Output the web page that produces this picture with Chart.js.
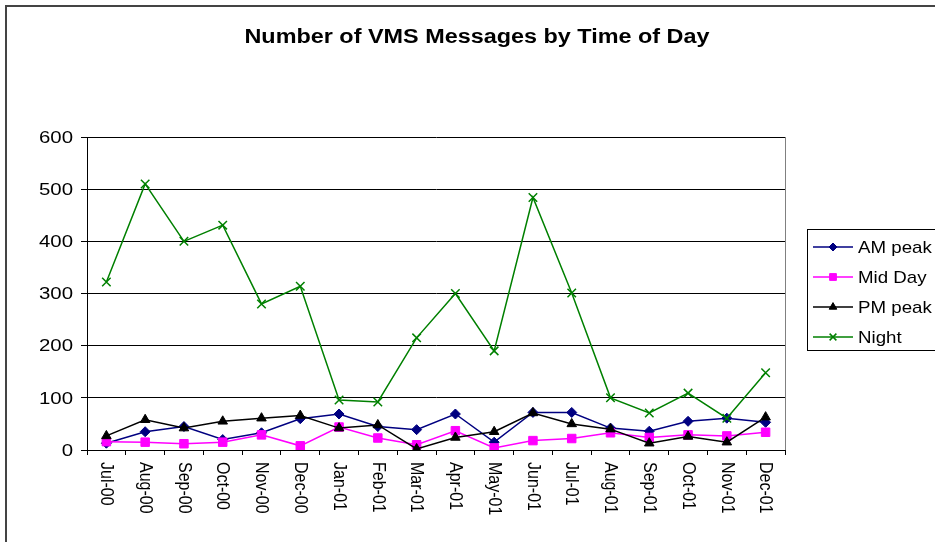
<!DOCTYPE html>
<html>
<head>
<meta charset="utf-8">
<script src="https://cdn.jsdelivr.net/npm/chart.js@4/dist/chart.umd.min.js"></script>
<style>
  html, body { margin: 0; padding: 0; background: #fff; }
  #wrap { width: 935px; height: 542px; position: relative; }
</style>
</head>
<body>
<div id="wrap"><canvas id="myChart" width="935" height="542"></canvas></div>
<script>
// Chart values
const months = ['Jul-00', 'Aug-00', 'Sep-00', 'Oct-00', 'Nov-00', 'Dec-00', 'Jan-01', 'Feb-01', 'Mar-01',
  'Apr-01', 'May-01', 'Jun-01', 'Jul-01', 'Aug-01', 'Sep-01', 'Oct-01', 'Nov-01', 'Dec-01'];
const amPeak = [13, 35, 45, 20, 33, 60, 69, 45, 39, 69, 15, 72, 72, 42, 36, 55, 61, 53];
const midDay = [16, 15, 12, 15, 29, 8, 44, 23, 10, 37, 4, 18, 22, 33, 24, 29, 27, 34];
const pmPeak = [27, 58, 42, 55, 61, 66, 42, 48, 2, 24, 35, 71, 50, 40, 13, 26, 15, 63];
const night = [322, 510, 400, 431, 280, 314, 96, 92, 215, 300, 190, 484, 301, 100, 71, 109, 61, 148];
const seriesNames = ['AM peak', 'Mid Day', 'PM peak', 'Night'];
const yTicks = [0, 100, 200, 300, 400, 500, 600];
const chartTitle = 'Number of VMS Messages by Time of Day';

const FONT = '"Liberation Sans", Arial, sans-serif';
const STRETCH = 1.2; // the original picture is stretched sideways

// Draws the texts, legend and frame the way the original Excel chart does
const decorations = {
  id: 'decorations',
  afterDraw(chart) {
    const ctx = chart.ctx;
    const area = chart.chartArea;
    const xs = chart.scales.x;
    const ys = chart.scales.y;

    ctx.save();
    // outer frame
    ctx.strokeStyle = '#444';
    ctx.lineWidth = 2;
    ctx.strokeRect(6, 6, 1000, 1000);

    // plot area right edge
    ctx.strokeStyle = '#808080';
    ctx.lineWidth = 1;
    ctx.beginPath();
    ctx.moveTo(area.right + 0.5, area.top);
    ctx.lineTo(area.right + 0.5, area.bottom);
    ctx.stroke();

    ctx.fillStyle = '#000';

    // title
    ctx.save();
    ctx.translate(477, 38);
    ctx.scale(STRETCH, 1);
    ctx.font = 'bold 19.5px ' + FONT;
    ctx.textAlign = 'center';
    ctx.textBaseline = 'middle';
    ctx.fillText(chartTitle, 0, 0);
    ctx.restore();

    // y labels
    yTicks.forEach(v => {
      ctx.save();
      ctx.translate(area.left - 14, ys.getPixelForValue(v) + 1);
      ctx.scale(STRETCH, 1);
      ctx.font = '17px ' + FONT;
      ctx.textAlign = 'right';
      ctx.textBaseline = 'middle';
      ctx.fillText(String(v), 0, 0);
      ctx.restore();
    });

    // x labels, reading downwards
    months.forEach((m, i) => {
      ctx.save();
      ctx.translate(xs.getPixelForValue(i), area.bottom + 12);
      ctx.scale(STRETCH, 1);
      ctx.rotate(Math.PI / 2);
      ctx.font = '16px ' + FONT;
      ctx.textAlign = 'left';
      ctx.textBaseline = 'middle';
      ctx.fillText(m, 0, 0);
      ctx.restore();
    });

    // legend
    ctx.strokeStyle = '#000';
    ctx.lineWidth = 1;
    ctx.strokeRect(807.5, 229.5, 140, 121);
    chart.data.datasets.forEach((ds, i) => {
      const y = 247 + i * 30;
      ctx.strokeStyle = ds.borderColor;
      ctx.lineWidth = 1.5;
      ctx.beginPath();
      ctx.moveTo(813, y);
      ctx.lineTo(853, y);
      ctx.stroke();
      if (Chart.helpers && Chart.helpers.drawPoint) {
        ctx.fillStyle = ds.pointBackgroundColor;
        ctx.strokeStyle = ds.pointBorderColor;
        ctx.lineWidth = ds.pointBorderWidth;
        Chart.helpers.drawPoint(ctx, { pointStyle: ds.pointStyle, radius: ds.pointRadius * 0.8, borderWidth: ds.pointBorderWidth }, 833, y);
      }
      ctx.save();
      ctx.translate(858, y + 1);
      ctx.scale(1.1, 1);
      ctx.fillStyle = '#000';
      ctx.font = '17px ' + FONT;
      ctx.textAlign = 'left';
      ctx.textBaseline = 'middle';
      ctx.fillText(ds.label, 0, 0);
      ctx.restore();
    });
    ctx.restore();
  }
};

function series(label, data, color, style, radius, order) {
  return {
    label: label,
    data: data,
    borderColor: color,
    backgroundColor: color,
    borderWidth: 1.5,
    pointStyle: style,
    pointRadius: radius,
    pointHoverRadius: radius,
    pointBackgroundColor: color,
    pointBorderColor: color,
    pointBorderWidth: style === 'crossRot' ? 1.5 : 1,
    tension: 0,
    order: order
  };
}

const ctx = document.getElementById('myChart').getContext('2d');
const myChart = new Chart(ctx, {
  type: 'line',
  data: {
    labels: months,
    datasets: [
      series(seriesNames[0], amPeak, '#000080', 'rectRot', 5, 4),
      series(seriesNames[1], midDay, '#FF00FF', 'rect', 6, 3),
      series(seriesNames[2], pmPeak, '#000000', 'triangle', 5.5, 2),
      series(seriesNames[3], night, '#008000', 'crossRot', 6, 1)
    ]
  },
  options: {
    responsive: false,
    animation: false,
    devicePixelRatio: 1,
    layout: { padding: { left: 0, top: 137, right: 150, bottom: 0 } },
    plugins: {
      legend: { display: false },
      title: { display: false },
      tooltip: { enabled: false }
    },
    scales: {
      x: {
        offset: true,
        grid: { offset: true, drawOnChartArea: false, drawTicks: true, tickLength: 5, color: '#000' },
        border: { color: '#000', width: 1 },
        ticks: { display: false },
        afterFit: scale => { scale.height = 92; }
      },
      y: {
        min: 0,
        max: 600,
        ticks: { stepSize: 100, display: false },
        grid: { color: '#000', lineWidth: 1, tickLength: 6 },
        border: { color: '#000', width: 1 },
        afterFit: scale => { scale.width = 87; }
      }
    }
  },
  plugins: [decorations]
});
</script>
</body>
</html>
